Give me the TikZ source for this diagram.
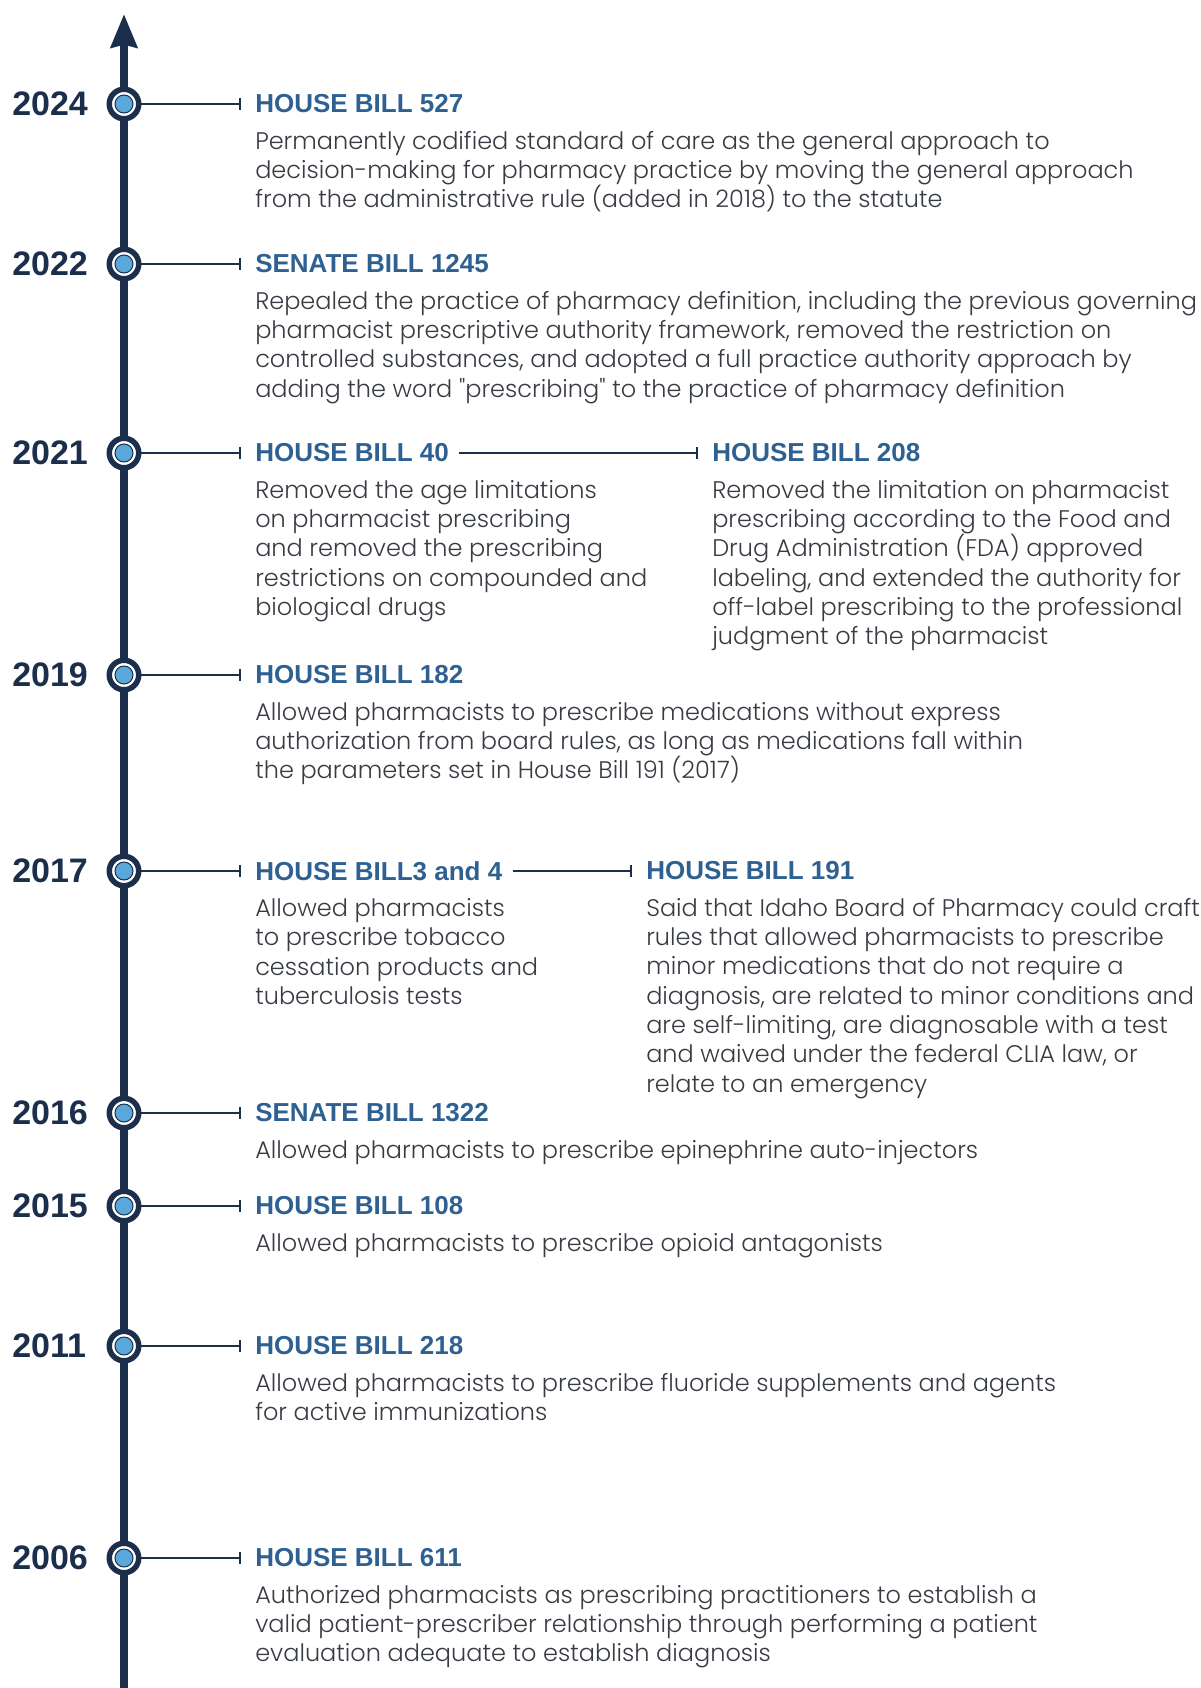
\documentclass[tikz,border=0pt]{standalone}
\usepackage{fontspec}
\setmainfont{Poppins}[UprightFont=* Light]
\newfontfamily\headfont{Liberation Sans}
\usepackage{tikz}
\usetikzlibrary{positioning, arrows.meta}
\definecolor{TLNavy}{RGB}{27,46,75}
\definecolor{TLBlue}{RGB}{46,96,146}
\definecolor{TLDot}{RGB}{90,167,218}
\definecolor{TLGray}{RGB}{55,59,66}
\tikzset{
    axis/.style={
        TLNavy, line width=6pt, -{Stealth[length=25pt, width=19.5pt, inset=2pt]}
    },
    ringmark/.style={
        circle, draw=TLNavy, fill=white, line width=4.1pt, minimum size=22.1pt, inner sep=0pt
    },
    dotmark/.style={
        circle, draw=TLNavy, fill=TLDot, line width=0.75pt, minimum size=13.5pt, inner sep=0pt
    },
    link/.style={
        TLNavy, line width=1.5pt, -{Bar[width=9pt]}, shorten >=10.5pt
    },
    yearlabel/.style={
        anchor=west, inner sep=0pt, text=TLNavy, font=\headfont\bfseries\fontsize{25.5pt}{25.5pt}\selectfont
    },
    billtitle/.style={
        anchor=west, inner sep=0pt, text=TLBlue, font=\headfont\bfseries\fontsize{19.5pt}{19.5pt}\selectfont
    },
    billtext/.style={
        anchor=north west, inner sep=0pt, align=left, text=TLGray, font=\fontsize{18pt}{22pt}\selectfont
    }
}

\begin{document}
\begin{tikzpicture}[x=0.75pt, y=-0.75pt]
    \useasboundingbox (0,0) rectangle (1201,1688);
    % time axis
    \draw[axis] (124,1688) -- (124,14);
    % years, markers and bill titles
    \foreach \yr/\yy/\bill in {2024/104/HOUSE BILL 527, 2022/264/SENATE BILL 1245,
        2021/453/HOUSE BILL 40, 2019/675/HOUSE BILL 182, 2017/871/HOUSE BILL3 and 4,
        2016/1113/SENATE BILL 1322, 2015/1206/HOUSE BILL 108, 2011/1346/HOUSE BILL 218,
        2006/1558/HOUSE BILL 611} {
        \node[yearlabel] (y\yr) at (12,\yy) {\yr};
        \node[ringmark] (m\yr) at (124,\yy) {};
        \node[dotmark] at (m\yr) {};
        \node[billtitle] (bill\yr) at (255,\yy) {\bill};
        \draw[link] (m\yr.east) -- (bill\yr.west);
    }
    % second bills of 2021 and 2017
    \node[billtitle] (bill2021b) at (712,453) {HOUSE BILL 208};
    \draw[link, shorten <=7.5pt] (bill2021.east) -- (bill2021b.west);
    \node[billtitle] (bill2017b) at (646,871) {HOUSE BILL 191};
    \draw[link, shorten <=7.5pt] (bill2017.east) -- (bill2017b.west);

    % descriptions
    \node[below=13pt of bill2024.south west, billtext] (txt2024) {Permanently codified standard of care as the general approach to\\
        decision-making for pharmacy practice by moving the general approach\\
        from the administrative rule (added in 2018) to the statute};
    \node[below=13pt of bill2022.south west, billtext] (txt2022) {Repealed the practice of pharmacy definition, including the previous governing\\
        pharmacist prescriptive authority framework, removed the restriction on\\
        controlled substances, and adopted a full practice authority approach by\\
        adding the word \textquotedbl prescribing\textquotedbl\ to the practice of pharmacy definition};
    \node[below=13pt of bill2021.south west, billtext] (txt2021) {Removed the age limitations\\
        on pharmacist prescribing\\
        and removed the prescribing\\
        restrictions on compounded and\\
        biological drugs};
    \node[below=13pt of bill2021b.south west, billtext] (txt2021b) {Removed the limitation on pharmacist\\
        prescribing according to the Food and\\
        Drug Administration (FDA) approved\\
        labeling, and extended the authority for\\
        off-label prescribing to the professional\\
        judgment of the pharmacist};
    \node[below=13pt of bill2019.south west, billtext] (txt2019) {Allowed pharmacists to prescribe medications without express\\
        authorization from board rules, as long as medications fall within\\
        the parameters set in House Bill 191 (2017)};
    \node[below=13pt of bill2017.south west, billtext] (txt2017) {Allowed pharmacists\\
        to prescribe tobacco\\
        cessation products and\\
        tuberculosis tests};
    \node[below=13pt of bill2017b.south west, billtext] (txt2017b) {Said that Idaho Board of Pharmacy could craft\\
        rules that allowed pharmacists to prescribe\\
        minor medications that do not require a\\
        diagnosis, are related to minor conditions and\\
        are self-limiting, are diagnosable with a test\\
        and waived under the federal CLIA law, or\\
        relate to an emergency};
    \node[below=13pt of bill2016.south west, billtext] (txt2016) {Allowed pharmacists to prescribe epinephrine auto-injectors};
    \node[below=13pt of bill2015.south west, billtext] (txt2015) {Allowed pharmacists to prescribe opioid antagonists};
    \node[below=13pt of bill2011.south west, billtext] (txt2011) {Allowed pharmacists to prescribe fluoride supplements and agents\\
        for active immunizations};
    \node[below=13pt of bill2006.south west, billtext] (txt2006) {Authorized pharmacists as prescribing practitioners to establish a\\
        valid patient-prescriber relationship through performing a patient\\
        evaluation adequate to establish diagnosis};
\end{tikzpicture}
\end{document}
